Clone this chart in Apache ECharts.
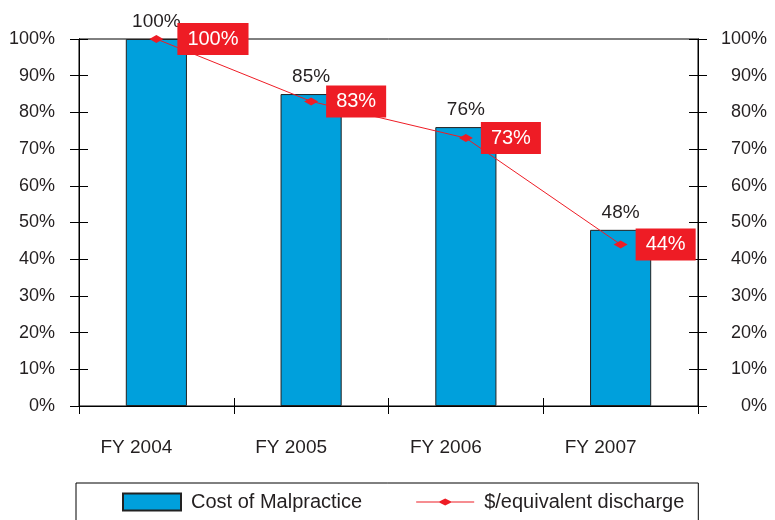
<!DOCTYPE html>
<html>
<head>
<meta charset="utf-8">
<script src="https://cdn.jsdelivr.net/npm/echarts@6/dist/echarts.min.js"></script>
<style>
  html, body { margin: 0; padding: 0; background: #fff; }
  #chart { width: 775px; height: 520px; }
</style>
</head>
<body>
<div id="chart"></div>
<script>
// Fiscal years on the category axis
const years = ['FY 2004', 'FY 2005', 'FY 2006', 'FY 2007'];
// Cost of malpractice, indexed to FY 2004 (%)
const malpracticeCost = [100, 85, 76, 48];
// Cost per equivalent discharge, indexed to FY 2004 (%)
const perDischarge = [100, 83, 73, 44];
// Percent scale shared by both value axes
const axisMin = 0;
const axisMax = 100;
const axisStep = 10;

const FONT = '"Liberation Sans", Arial, Helvetica, sans-serif';
const INK = '#231f20';
const BLUE = '#00a0dc';
const RED = '#ee1c25';

const pct = v => v + '%';

function valueAxis(pos, withLabels, inside) {
  return {
    type: 'value',
    position: pos,
    min: axisMin,
    max: axisMax,
    interval: axisStep,
    axisLine: { show: true, lineStyle: { color: '#000', width: 1 } },
    axisTick: { show: true, inside: inside, length: 9, lineStyle: { color: '#000', width: 1 } },
    splitLine: { show: false },
    axisLabel: withLabels ? {
      show: true,
      formatter: pct,
      fontFamily: FONT,
      fontSize: 18,
      color: INK,
      align: 'right',
      margin: pos === 'left' ? 24 : 69
    } : { show: false }
  };
}

function categoryAxis(withLabels, inside) {
  return {
    type: 'category',
    position: 'bottom',
    data: years,
    boundaryGap: true,
    axisLine: { show: true, lineStyle: { color: '#000', width: 1 } },
    axisTick: { show: true, inside: inside, length: 8, alignWithLabel: false, lineStyle: { color: '#000', width: 1 } },
    axisLabel: withLabels ? {
      show: true,
      fontFamily: FONT,
      fontSize: 19,
      color: INK,
      margin: 32,
      padding: [0, 40, 0, 0]
    } : { show: false }
  };
}

// Legend glyph for the line series: thin stroke with a flat diamond marker
const lineIcon = 'path://M0,8 L58,8 L58,9.2 L0,9.2 Z M22,8.6 L29,5 L36,8.6 L29,12.2 Z';

// The first callout sits a little further out so it clears the bar label above
const lineData = perDischarge.map((v, i) =>
  i === 0 ? { value: v, label: { distance: 14 } } : v
);

const chart = echarts.init(document.getElementById('chart'), null, { renderer: 'canvas' });

chart.setOption({
  animation: false,
  backgroundColor: '#fff',
  textStyle: { fontFamily: FONT },
  grid: {
    left: 79,
    right: 77,
    top: 39,
    bottom: 114,
    show: true,
    borderColor: '#000',
    borderWidth: 1,
    backgroundColor: 'transparent'
  },
  xAxis: [categoryAxis(true, false), categoryAxis(false, true)],
  yAxis: [
    valueAxis('left', true, false),
    valueAxis('left', false, true),
    valueAxis('right', true, false),
    valueAxis('right', false, true)
  ],
  legend: {
    left: 76,
    top: 483,
    orient: 'horizontal',
    itemWidth: 58,
    itemHeight: 17,
    itemGap: 54,
    padding: [9, 14, 30, 46],
    borderColor: '#000',
    borderWidth: 1,
    textStyle: { fontFamily: FONT, fontSize: 20, color: INK, padding: [0, 0, 0, 5] },
    data: [
      { name: 'Cost of Malpractice', icon: 'rect' },
      { name: '$/equivalent discharge', icon: lineIcon }
    ]
  },
  series: [
    {
      name: 'Cost of Malpractice',
      type: 'bar',
      xAxisIndex: 0,
      yAxisIndex: 0,
      data: malpracticeCost,
      barWidth: '39.5%',
      itemStyle: { color: BLUE, borderColor: '#222', borderWidth: 1 },
      label: {
        show: true,
        position: 'top',
        distance: 8,
        formatter: p => pct(p.value),
        fontFamily: FONT,
        fontSize: 19,
        color: INK
      },
      z: 2
    },
    {
      name: '$/equivalent discharge',
      type: 'line',
      xAxisIndex: 0,
      yAxisIndex: 0,
      data: lineData,
      symbol: 'diamond',
      symbolSize: [14, 8],
      lineStyle: { color: RED, width: 1 },
      itemStyle: { color: RED },
      label: {
        show: true,
        position: 'right',
        distance: 8,
        formatter: p => pct(p.value),
        fontFamily: FONT,
        fontSize: 20,
        color: '#fff',
        backgroundColor: RED,
        padding: [6, 10],
        lineHeight: 20
      },
      z: 3
    }
  ]
});
</script>
</body>
</html>
